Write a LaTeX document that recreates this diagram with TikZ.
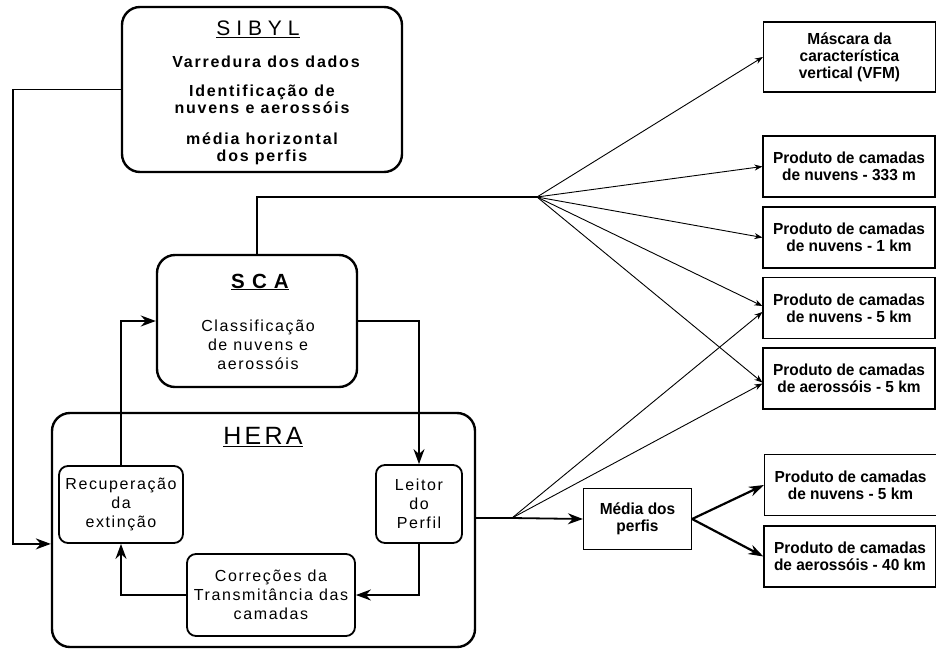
\documentclass[tikz,border=0pt]{standalone}
\usepackage{fontspec}
\setmainfont{Liberation Sans}
\newfontfamily\bodysp[LetterSpace=10]{Liberation Sans}
\newfontfamily\sibsp[LetterSpace=11]{Liberation Sans}
\newfontfamily\titlesp[LetterSpace=28]{Liberation Sans}
\newfontfamily\scasp[LetterSpace=35]{Liberation Sans}
\newfontfamily\herasp[LetterSpace=13]{Liberation Sans}
\newfontfamily\outfont[FakeStretch=0.965]{Liberation Sans}
\usetikzlibrary{arrows.meta}
\begin{document}
\begin{tikzpicture}[x=1pt,y=-1pt,
  bigbox/.style={draw,line width=2.4pt,rounded corners=18pt,inner sep=0pt},
  midbox/.style={draw,line width=1.8pt,rounded corners=9pt,inner sep=0pt},
  outbox/.style={draw,line width=1.2pt,inner sep=0pt,minimum width=172pt,minimum height=61pt,
    font=\outfont\bfseries\fontsize{16}{17}\selectfont,align=center},
  lbl/.style={inner sep=0pt,align=center,font=\bodysp\fontsize{16}{19}\selectfont},
  siblbl/.style={inner sep=0pt,align=center,font=\sibsp\bfseries\fontsize{16}{17}\selectfont},
  flow/.style={line width=1.8pt,-{Stealth[length=15pt,width=11pt]}},
  plain/.style={line width=1.8pt},
  fan/.style={line width=0.9pt,-{Stealth[length=8pt,width=6pt]}},
  thick arrow/.style={line width=2.2pt,-{Stealth[length=15pt,width=10pt]}}]
\useasboundingbox (0,0) rectangle (936,648);

% main processing blocks
\node[bigbox,minimum width=280pt,minimum height=165pt] (sibyl) at (262,89.5) {};
\node[bigbox,minimum width=200pt,minimum height=132pt] (sca) at (257,321) {};
\node[bigbox,minimum width=423pt,minimum height=234pt] (hera) at (263.5,530) {};

\node[inner sep=0pt,font=\titlesp\fontsize{21}{21}\selectfont] (sibylT) at (258,29) {\underline{SIBYL}};
\node[siblbl] (sib1) at (266,62) {Varredura dos dados};
\node[siblbl] (sib2) at (262,99.5) {Identificação de\\nuvens e aerossóis};
\node[siblbl] (sib3) at (262,148.5) {média horizontal\\dos perfis};

\node[inner sep=0pt,font=\scasp\bfseries\fontsize{20.5}{20.5}\selectfont] (scaT) at (260,282) {\underline{SCA}};
\node[lbl] (scaB) at (258,345) {Classificação\\de nuvens e\\ aerossóis};

\node[inner sep=0pt,font=\herasp\fontsize{25}{25}\selectfont] (heraT) at (263,437) {\underline{HERA}};

% HERA internal steps
\node[midbox,minimum width=124pt,minimum height=77pt] (recup) at (121,504.5) {};
\node[lbl] at (recup) {Recuperação\\da\\ extinção};
\node[midbox,minimum width=86pt,minimum height=78pt] (leitor) at (419,504) {};
\node[lbl] at (leitor) {Leitor\\do\\ Perfil};
\node[midbox,minimum width=168pt,minimum height=82pt] (corr) at (271,595) {};
\node[lbl] at (corr) {Correções da\\Transmitância das\\camadas};

% output products
\node[outbox,minimum height=70pt] (vfm) at (849.5,57) {Máscara da\\característica\\vertical (VFM)};
\node[outbox] (c333) at (849,166.5) {Produto de camadas\\ de nuvens - 333 m};
\node[outbox] (c1) at (849,237.5) {Produto de camadas\\ de nuvens - 1 km};
\node[outbox] (c5) at (849,308) {Produto de camadas\\ de nuvens - 5 km};
\node[outbox] (a5) at (849,378.5) {Produto de camadas\\ de aerossóis - 5 km};
\node[outbox] (c5b) at (850.5,485) {Produto de camadas\\ de nuvens - 5 km};
\node[outbox] (a40) at (850,556.5) {Produto de camadas\\de aerossóis - 40 km};
\node[draw,line width=1.2pt,inner sep=0pt,minimum width=108pt,minimum height=61pt,
  font=\outfont\bfseries\fontsize{16}{17}\selectfont,align=center] (media) at (637.5,519) {Média dos\\perfis};

% branching points
\coordinate (lbus) at (13,0);
\coordinate (fanA) at (537,197);
\coordinate (fanB) at (512,518);

% connectors
\draw[flow] (sibyl.west) -| (lbus |- recup.south) -- (hera.west |- recup.south);
\draw[flow] (recup.north) |- (sca.west);
\draw[flow] (sca.east) -| (leitor.north);
\draw[flow] (leitor.south) |- (corr.east);
\draw[flow] (corr.west) -| (recup.south);
\draw[plain] (sca.north) |- (fanA);
\draw[plain] (hera.east |- fanB) -- (fanB);
\draw[flow] (fanB) -- (media.west);

\draw[fan] (fanA) -- (vfm.west);
\draw[fan] (fanA) -- (c333.west);
\draw[fan] (fanA) -- (c1.west);
\draw[fan] (fanA) -- ([yshift=2pt]c5.west);
\draw[fan] (fanA) -- ([yshift=-4pt]a5.west);
\draw[fan] (fanB) -- ([yshift=-4pt]c5.west);
\draw[fan] (fanB) -- ([yshift=-5pt]a5.west);

\draw[thick arrow] (media.east) -- (c5b.west);
\draw[thick arrow] (media.east) -- (a40.west);
\end{tikzpicture}
\end{document}
